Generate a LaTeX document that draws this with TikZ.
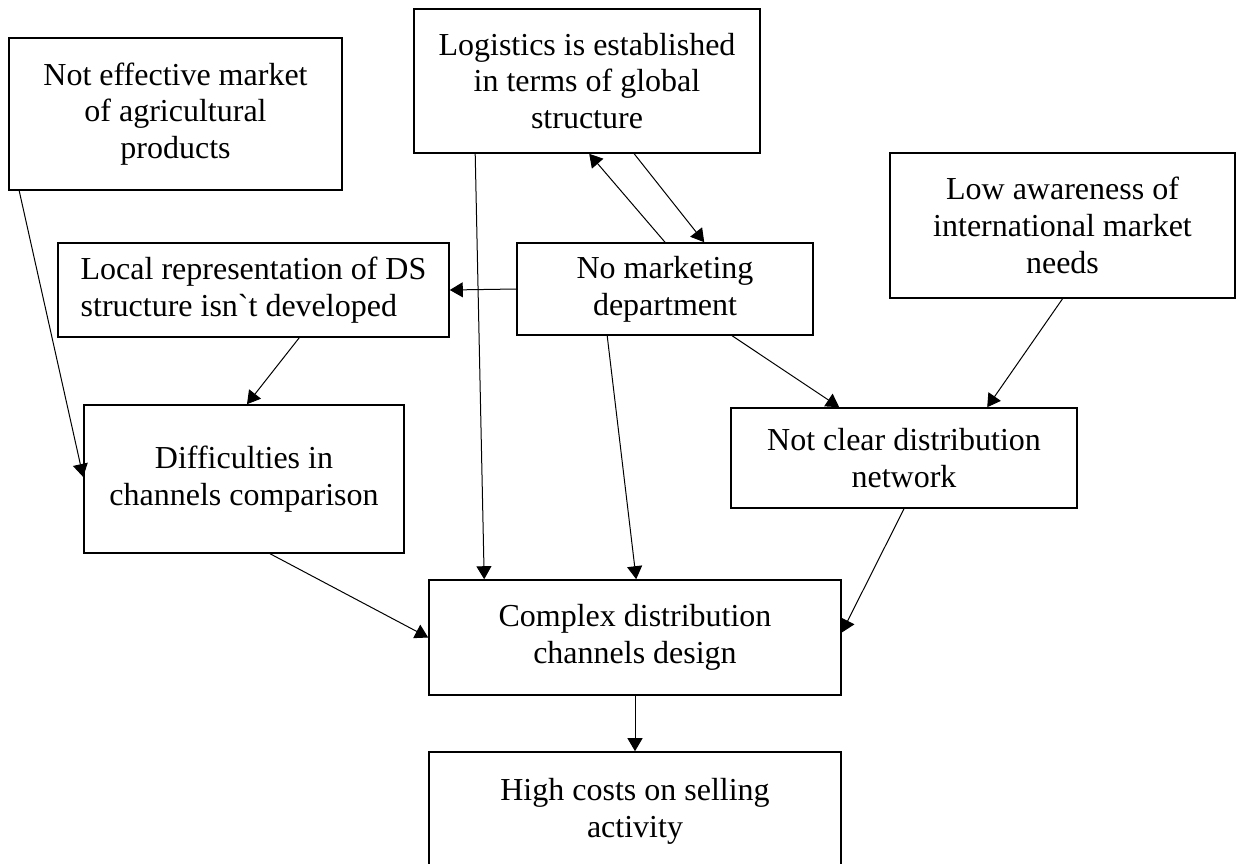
\documentclass[tikz,border=0pt]{standalone}
\usepackage{fontspec}
\setmainfont{Liberation Serif}[Ligatures=TeXOff]
\usetikzlibrary{arrows.meta,calc}
\begin{document}
\begin{tikzpicture}[x=0.5pt,y=-0.5pt,
 box/.style={draw, line width=0.8pt, inner sep=0pt, align=center, font=\fontsize{16}{18.4}\selectfont},
 arr/.style={-{Triangle[length=6.5pt,width=7.5pt]}, line width=0.5pt}]
\useasboundingbox (0,0) rectangle (1236,863);
\node[box, minimum width=166.5pt, minimum height=76pt] (nem) at (175.5,114) {Not effective market\\of agricultural\\products};
\node[box, minimum width=173pt, minimum height=72pt] (log) at (587,81) {Logistics is established\\in terms of global\\structure};
\node[box, minimum width=172.5pt, minimum height=72.5pt] (low) at (1062.5,225.5) {Low awareness of\\international market\\needs};
\node[box, align=left, minimum width=195.5pt, minimum height=47pt] (loc) at (253.5,290) {Local representation of DS\\structure isn`t developed};
\node[box, minimum width=148pt, minimum height=46pt] (nmd) at (665,289) {No marketing\\department};
\node[box, minimum width=160pt, minimum height=74pt] (dif) at (244,479) {Difficulties in\\channels comparison};
\node[box, minimum width=173pt, minimum height=50pt] (ncd) at (904,458) {Not clear distribution\\network};
\node[box, minimum width=206pt, minimum height=57.5pt] (cdc) at (635,637.5) {Complex distribution\\channels design};
\node[box, minimum width=206pt, minimum height=59.5pt] (hcs) at (635,811.5) {High costs on selling\\activity};

\draw[arr] ($(nem.south west)+(11,0)$) -- ($(dif.west)+(0,-2)$);
\draw[arr] ($(log.south west)+(62,0)$) -- ($(cdc.north west)+(56,0)$);
\draw[arr] ($(log.south west)+(221,0)$) -- ($(nmd.north west)+(188,0)$);
\draw[arr] (nmd.north) -- ($(log.south west)+(176,0)$);
\draw[arr] (nmd.west) -- (loc.east);
\draw[arr] ($(nmd.south west)+(91,0)$) -- ($(cdc.north west)+(208,0)$);
\draw[arr] ($(nmd.south west)+(216,0)$) -- ($(ncd.north west)+(109,0)$);
\draw[arr] (low.south) -- ($(ncd.north west)+(257,0)$);
\draw[arr] ($(loc.south west)+(242,0)$) -- ($(dif.north)+(3,0)$);
\draw[arr] ($(dif.south west)+(187,0)$) -- (cdc.west);
\draw[arr] (ncd.south) -- ($(cdc.east)+(0,-5)$);
\draw[arr] (cdc.south) -- (hcs.north);
\end{tikzpicture}
\end{document}
